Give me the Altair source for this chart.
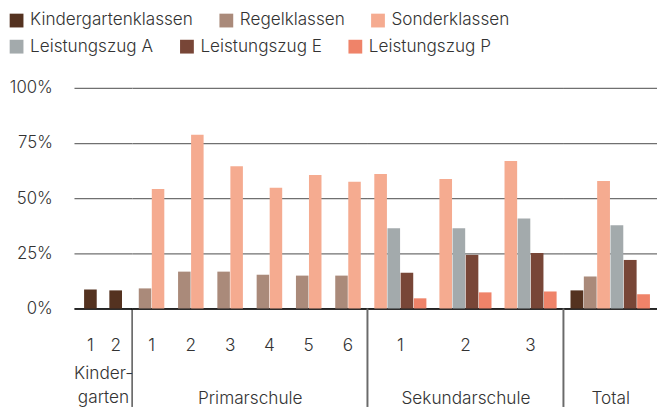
import altair as alt
import pandas as pd

# ---------------- data ----------------
series_row1 = ["Kindergartenklassen", "Regelklassen", "Sonderklassen"]
colors_row1 = ["#543220", "#AA8A7A", "#F5AB90"]
series_row2 = ["Leistungszug A", "Leistungszug E", "Leistungszug P"]
colors_row2 = ["#A3AAAC", "#784637", "#EF8369"]
series = series_row1 + series_row2

kg_grades = ["1", "2"]
kg_kinder = [8.6, 8.2]

prim_grades = ["1", "2", "3", "4", "5", "6"]
prim_regel = [9.1, 16.7, 16.7, 15.3, 14.9, 14.9]
prim_sonder = [54.2, 78.8, 64.5, 54.7, 60.5, 57.4]

sek_grades = ["1", "2", "3"]
sek_sonder = [61.0, 58.7, 66.8]
sek_a = [36.4, 36.4, 40.8]
sek_e = [16.2, 24.3, 25.2]
sek_p = [4.6, 7.3, 7.7]

total_grades = [""]
total_values = [8.2, 14.5, 57.8, 37.7, 22.0, 6.4]

section_titles = [["Kinder-", "garten"], "Primarschule", "Sekundarschule", "Total"]
y_ticks = [0, 25, 50, 75, 100]

FONT = "Inter"
TXT = "#333333"
H = 224


def frame(grades, cols):
    rows = []
    for name, vals in cols:
        for g, v in zip(grades, vals):
            rows.append({"grade": g, "series": name, "value": v})
    return pd.DataFrame(rows)


df_kg = frame(kg_grades, [("Kindergartenklassen", kg_kinder)])
df_prim = frame(prim_grades, [("Regelklassen", prim_regel), ("Sonderklassen", prim_sonder)])
df_sek = frame(sek_grades, [("Sonderklassen", sek_sonder), ("Leistungszug A", sek_a),
                            ("Leistungszug E", sek_e), ("Leistungszug P", sek_p)])
df_tot = frame(total_grades, [(s, [v]) for s, v in zip(series, total_values)])


def legend(y):
    return alt.Legend(
        title=None, orient="none", legendX=-67, legendY=y,
        direction="horizontal", columns=3,
        symbolType="square", symbolSize=196, symbolStrokeWidth=0,
        labelFont=FONT, labelFontSize=17.4, labelFontWeight=300, labelColor=TXT,
        labelLimit=400, labelOffset=5, columnPadding=25,
    )


color_row1 = alt.Color("series:N", scale=alt.Scale(domain=series_row1, range=colors_row1),
                       legend=legend(-77.5))
fill_row2 = alt.Fill("series:N", scale=alt.Scale(domain=series_row2, range=colors_row2),
                     legend=legend(-51))


def panel(df, grades, present, width, pi, po, title, title_y, first, sep, show_x_labels=True):
    x_enc = alt.X("grade:N", sort=grades,
                  scale=alt.Scale(paddingInner=pi, paddingOuter=po),
                  axis=alt.Axis(title=title, labelAngle=0, ticks=False, tickSize=0,
                                labelPadding=29, labels=show_x_labels,
                                titleY=title_y, titleBaseline="alphabetic",
                                titleLineHeight=24,
                                domainColor="#000000", domainWidth=1.5))
    xo_enc = alt.XOffset("series:N", sort=present,
                         scale=alt.Scale(domain=present, paddingInner=0.04))
    y_enc = alt.Y("value:Q", scale=alt.Scale(domain=[0, 100]),
                  axis=alt.Axis(values=y_ticks, labels=first, labelExpr="datum.value + '%'",
                                ticks=False, domain=False, grid=True, title=None,
                                labelPadding=22, labelFontSize=17))
    layers = []
    d1 = df[df["series"].isin(series_row1)]
    d2 = df[df["series"].isin(series_row2)]
    if len(d1):
        layers.append(alt.Chart(d1).mark_bar().encode(x=x_enc, xOffset=xo_enc, y=y_enc,
                                                      color=color_row1))
    if len(d2):
        layers.append(alt.Chart(d2).mark_bar().encode(x=x_enc, xOffset=xo_enc, y=y_enc,
                                                      fill=fill_row2))
    if sep is not None:
        layers.append(alt.Chart(pd.DataFrame({"s": [0]})).mark_rule(
            color=sep[0], strokeWidth=sep[1]
        ).encode(x=alt.value(0), y=alt.value(H), y2=alt.value(H + 100)))
    return alt.layer(*layers).properties(width=width, height=H)


p1 = panel(df_kg, kg_grades, ["Kindergartenklassen"], 59, 0.5, 0.4,
           section_titles[0], 71, True, None)
p2 = panel(df_prim, prim_grades, ["Regelklassen", "Sonderklassen"], 239, 0.35, 0.17,
           section_titles[1], 96, False, ("#000000", 1))
p3 = panel(df_sek, sek_grades, ["Sonderklassen", "Leistungszug A", "Leistungszug E", "Leistungszug P"],
           199, 0.2, 0.105, section_titles[2], 96, False, ("#6a6a6a", 2))
p4 = panel(df_tot, total_grades, series, 95, 0.1, 0.08,
           section_titles[3], 96, False, ("#6a6a6a", 2), show_x_labels=False)

chart = alt.hconcat(p1, p2, p3, p4, spacing=0, bounds="flush", padding=0).resolve_scale(
    x="independent", xOffset="independent", y="shared", color="shared", fill="shared"
).configure_view(
    stroke=None
).configure_axis(
    labelFont=FONT, titleFont=FONT, labelFontSize=17.5, titleFontSize=17.5,
    labelFontWeight=300, titleFontWeight=300,
    labelColor=TXT, titleColor=TXT,
    gridColor="#707070", gridWidth=1.3,
).configure_concat(spacing=0)

chart.save("out.html", embed_options={"renderer": "svg", "actions": False})
